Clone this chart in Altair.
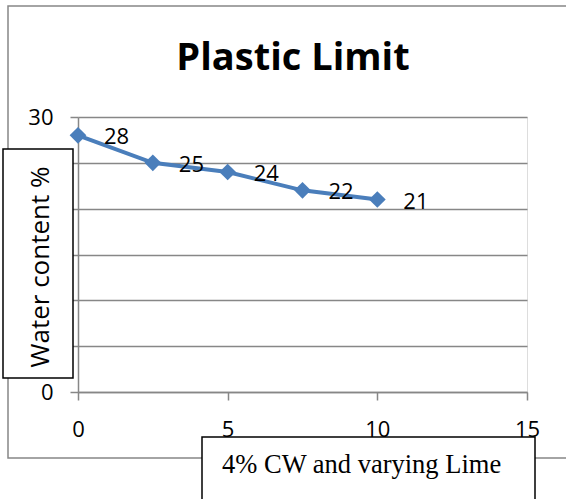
import altair as alt
import pandas as pd

# Plastic limit readings: lime content vs. water content
lime_pct = [0, 2.5, 5, 7.5, 10]
water_content = [28, 25, 24, 22, 21]

x_ticks = [0, 5, 10, 15]
y_ticks = [0, 5, 10, 15, 20, 25, 30]

title_text = "Plastic Limit"
y_title = "Water content %"
x_title = "4% CW and varying Lime"

LINE_BLUE = "#4A7EBB"
GRID_GRAY = "#878787"
SANS = "Open Sans"

df = pd.DataFrame({"lime": lime_pct, "wc": water_content})

x_enc = alt.X(
    "lime:Q",
    scale=alt.Scale(domain=[0, 15], nice=False),
    axis=alt.Axis(
        values=x_ticks, grid=False, title=None, tickSize=8,
        labelPadding=19, labelFontSize=22, labelFont=SANS, labelColor="black",
        domainColor=GRID_GRAY, tickColor=GRID_GRAY, domainWidth=1.5, tickWidth=1.5,
        labelFlush=False,
    ),
)
y_enc = alt.Y(
    "wc:Q",
    scale=alt.Scale(domain=[0, 30], nice=False),
    axis=alt.Axis(
        values=y_ticks, grid=True, title=None, tickSize=8,
        labelPadding=17, labelFontSize=22, labelFont=SANS, labelColor="black",
        labelExpr="datum.value == 0 || datum.value == 30 ? datum.label : ''",
        gridColor=GRID_GRAY, gridWidth=1.5, domainColor=GRID_GRAY,
        tickColor=GRID_GRAY, domainWidth=1.5, tickWidth=1.5, labelFlush=False,
    ),
)

base = alt.Chart(df)

line = base.mark_line(color=LINE_BLUE, strokeWidth=4).encode(x=x_enc, y=y_enc)
points = base.mark_point(
    shape="diamond", filled=True, size=280, color=LINE_BLUE, opacity=1
).encode(x="lime:Q", y="wc:Q")
labels = base.mark_text(
    align="left", baseline="middle", dx=26, dy=2, fontSize=22, font=SANS, color="black"
).encode(x="lime:Q", y="wc:Q", text="wc:Q")

one = alt.Data(values=[{}])

# outer chart frame
frame = alt.Chart(one).mark_rect(
    fill=None, stroke=GRID_GRAY, strokeWidth=1.5
).encode(x=alt.value(-70), x2=alt.value(520), y=alt.value(-111), y2=alt.value(341))

# boxed axis titles
y_box = alt.Chart(one).mark_rect(
    fill="white", stroke="black", strokeWidth=1.5
).encode(x=alt.value(-75), x2=alt.value(-5), y=alt.value(32), y2=alt.value(261))
y_text = alt.Chart(one).mark_text(
    text=y_title, angle=270, align="center", baseline="middle",
    fontSize=26, font=SANS, color="black"
).encode(x=alt.value(-37), y=alt.value(150))

x_box = alt.Chart(one).mark_rect(
    fill="white", stroke="black", strokeWidth=1.5
).encode(x=alt.value(124), x2=alt.value(457), y=alt.value(320), y2=alt.value(420))
x_text = alt.Chart(one).mark_text(
    text=x_title, align="left", baseline="alphabetic",
    fontSize=26.5, font="Liberation Serif", color="black"
).encode(x=alt.value(144), y=alt.value(356))

title = alt.Chart(one).mark_text(
    text=title_text, align="center", baseline="alphabetic",
    fontSize=38, font=SANS, fontWeight="bold", color="black"
).encode(x=alt.value(215), y=alt.value(-47))

chart = alt.layer(
    frame, line, points, labels, y_box, y_text, x_box, x_text, title
).properties(
    width=449, height=275,
    autosize=alt.AutoSizeParams(type="none"),
    padding={"left": 78, "top": 117, "right": 39, "bottom": 107},
).configure_view(stroke=None).configure(background="white")

chart.save("out.html", embed_options={"renderer": "svg", "actions": False})
